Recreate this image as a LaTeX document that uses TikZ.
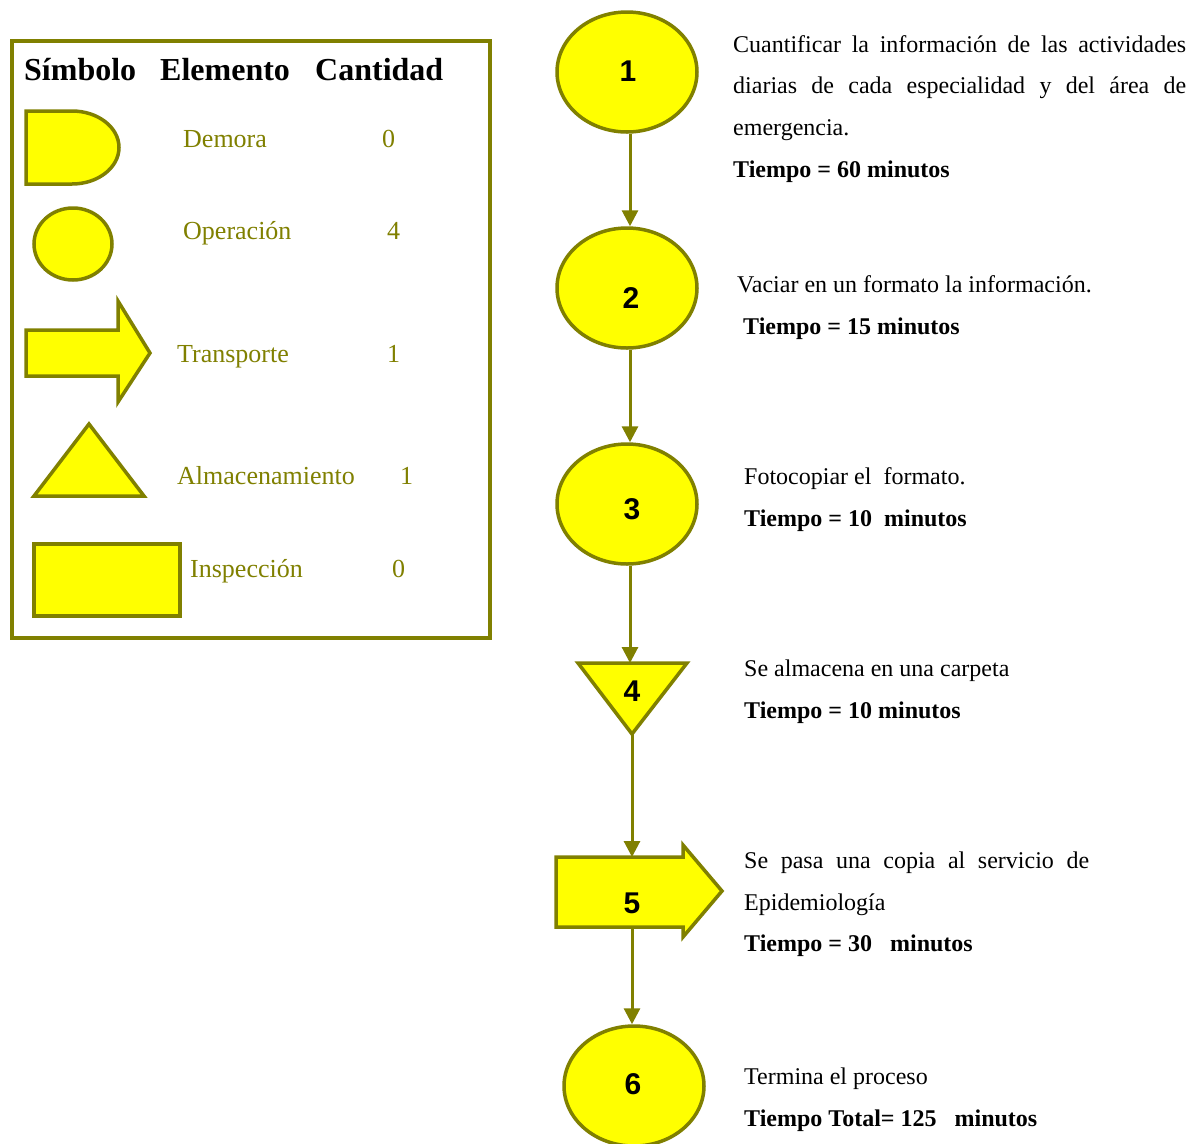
\documentclass[tikz,border=0pt]{standalone}
\usepackage{fontspec}
\setmainfont{Liberation Serif}
\newfontfamily\numfont{Liberation Sans}
\usetikzlibrary{shapes.geometric,arrows.meta}
\definecolor{olivea}{HTML}{808000}
\definecolor{yellowa}{HTML}{FFFF00}
\tikzset{
  sym/.style={draw=olivea, fill=yellowa, line width=3.5pt, line join=miter},
  oval/.style={sym, ellipse, minimum width=140pt, minimum height=120pt, inner sep=0pt},
  num/.style={font=\numfont\bfseries\fontsize{30}{32}\selectfont, anchor=base, inner sep=0pt},
  flow/.style={draw=olivea, line width=3pt, -{Triangle[length=16pt,width=16pt]}},
  body/.style={font=\fontsize{24}{28}\selectfont, anchor=base west, inner sep=0pt},
  bold/.style={body, font=\fontsize{24}{28}\selectfont\bfseries},
  head/.style={font=\fontsize{32}{36}\selectfont\bfseries, anchor=base west, inner sep=0pt},
  item/.style={font=\fontsize{26}{30}\selectfont, text=olivea, anchor=base west, inner sep=0pt},
}
\begin{document}
\begin{tikzpicture}[x=1pt, y=-1pt]
\path[use as bounding box, fill=white] (0,0) rectangle (1203,1144);

% ---- legend ----
\draw[olivea, line width=4pt] (12,41) rectangle (490,638);
\node[head] (hs) at (24,80) {Símbolo};
\node[head] (he) at (160,80) {Elemento};
\node[head] (hc) at (315,80) {Cantidad};

% delay
\draw[sym] (26,111) -- (72,111) arc[start angle=-90, end angle=90, x radius=47, y radius=36.5] -- (26,184) -- cycle;
\node[item] (ld) at (183,147) {Demora};
\node[item] (ldn) at (382,147) {0};
% operation
\node[sym, ellipse, minimum width=78pt, minimum height=72pt, inner sep=0pt] (lo) at (73,244) {};
\node[item] (lot) at (183,239) {Operación};
\node[item] (lon) at (387,239) {4};
% transport
\draw[sym] (26,330) -- (118,330) -- (118,301) -- (150,353) -- (118,402) -- (118,376) -- (26,376) -- cycle;
\node[item] (lt) at (177,362) {Transporte};
\node[item] (ltn) at (387,362) {1};
% storage
\draw[sym] (89,424) -- (144,496) -- (34,496) -- cycle;
\node[item] (la) at (177,484) {Almacenamiento};
\node[item] (lan) at (400,484) {1};
% inspection
\draw[sym] (34,544) rectangle (180,616);
\node[item] (li) at (190,577) {Inspección};
\node[item] (lin) at (392,577) {0};

% ---- process chain ----
\coordinate (axis) at (630,0);
\node[oval] (c1) at (627,72) {};
\node[num] (t1) at (628,81) {1};
\node[oval] (c2) at (627,288) {};
\node[num] (t2) at (631,308) {2};
\node[oval] (c3) at (627,504) {};
\node[num] (t3) at (632,519) {3};

% storage step
\coordinate (s4top) at (632,663);
\coordinate (s4apex) at (632,734);
\draw[sym] (578,663) -- (687,663) -- (s4apex) -- cycle;
\node[num] (t4) at (632,701) {4};

% transport step
\coordinate (s5top) at (632,857);
\coordinate (s5bot) at (632,927);
\draw[sym] (556,857) -- (683,857) -- (683,845) -- (722,891) -- (683,937) -- (683,927) -- (556,927) -- cycle;
\node[num] (t5) at (632,913) {5};

\node[oval] (c6) at (634,1086) {};
\node[num] (t6) at (633,1094) {6};

\draw[flow] (c1.south -| axis) -- (c2.north -| axis);
\draw[flow] (c2.south -| axis) -- (c3.north -| axis);
\draw[flow] (c3.south -| axis) -- (s4top -| axis);
\draw[flow] (s4apex) -- (s5top);
\draw[flow] (s5bot) -- (s5bot |- c6.north);

% ---- descriptions ----
\node[body] (d1a) at (733,52) {\makebox[453pt][s]{Cuantificar la información de las actividades}};
\node[body] (d1b) at (733,93) {\makebox[453pt][s]{diarias de cada especialidad y del área de}};
\node[body] (d1c) at (733,135) {emergencia.};
\node[bold] (d1t) at (733,177) {Tiempo = 60 minutos};

\node[body] (d2a) at (737,292) {Vaciar en un formato la información.};
\node[bold] (d2t) at (743,334) {Tiempo = 15 minutos};

\node[body] (d3a) at (744,484) {Fotocopiar el\ \ formato.};
\node[bold] (d3t) at (744,526) {Tiempo = 10\ \ minutos};

\node[body] (d4a) at (744,676) {Se almacena en una carpeta};
\node[bold] (d4t) at (744,718) {Tiempo = 10 minutos};

\node[body] (d5a) at (744,868) {\makebox[345pt][s]{Se pasa una copia al servicio de}};
\node[body] (d5b) at (744,910) {Epidemiología};
\node[bold] (d5t) at (744,951) {Tiempo = 30\ \ \ minutos};

\node[body] (d6a) at (744,1084) {Termina el proceso};
\node[bold] (d6t) at (744,1126) {Tiempo Total= 125\ \ \ minutos};
\end{tikzpicture}
\end{document}
